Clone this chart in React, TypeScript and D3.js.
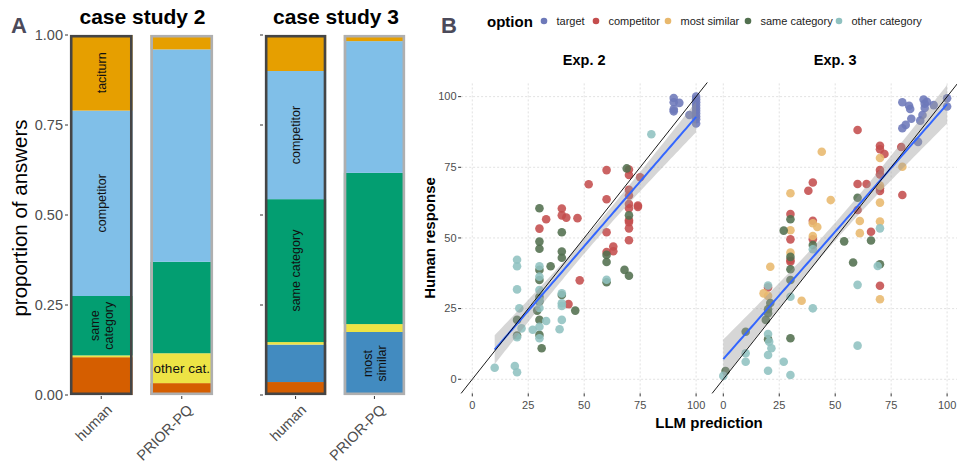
import * as d3 from 'd3';

type Pt = [number, number];

// ---------- panel A: answer proportions (stacked bottom -> top)
const answerTypes = ['target', 'most similar', 'other category', 'same category', 'competitor', 'taciturn'];
const answerColors = ['#D55E00', '#428BC0', '#EDE345', '#039E71', '#80BFE8', '#E69F00'];
const studies = ['case study 2', 'case study 3'];
const sources = ['human', 'PRIOR-PQ'];
const cs2Human = [0.105, 0, 0.005, 0.165, 0.515, 0.21];
const cs2Prior = [0.033, 0, 0.083, 0.254, 0.59, 0.04];
const cs3Human = [0.036, 0.104, 0.007, 0.397, 0.356, 0.1];
const cs3Prior = [0, 0.175, 0.022, 0.42, 0.366, 0.017];
const propTicks = [0, 0.25, 0.5, 0.75, 1];

const barLabels = [
  { study: 'case study 2', source: 'human', type: 'taciturn', lines: ['taciturn'], rotate: true },
  { study: 'case study 2', source: 'human', type: 'competitor', lines: ['competitor'], rotate: true },
  { study: 'case study 2', source: 'human', type: 'same category', lines: ['same', 'category'], rotate: true },
  { study: 'case study 2', source: 'PRIOR-PQ', type: 'other category', lines: ['other cat.'], rotate: false },
  { study: 'case study 3', source: 'human', type: 'competitor', lines: ['competitor'], rotate: true },
  { study: 'case study 3', source: 'human', type: 'same category', lines: ['same category'], rotate: true },
  { study: 'case study 3', source: 'PRIOR-PQ', type: 'most similar', lines: ['most', 'similar'], rotate: true },
];

// ---------- panel B: LLM prediction vs human response
const optionNames = ['target', 'competitor', 'most similar', 'same category', 'other category'];
const optionColors = ['#6D79B9', '#C44D4D', '#E8B86D', '#52704F', '#8FC1C0'];
const experiments = ['Exp. 2', 'Exp. 3'];
const axisTicks = [0, 25, 50, 75, 100];

const exp2Target: Pt[] = [
  [90, 99.5], [90, 98], [92.5, 97.8], [90, 95.5], [90, 94.8], [97, 93.5], [100, 100], [100, 99],
  [100, 98], [100, 97], [100, 96], [100, 95], [100, 94], [100, 93], [100, 92], [100, 90.5],
];
const exp2Competitor: Pt[] = [
  [30, 53.3], [33, 56.6], [40, 60.4], [40, 58], [42, 57.2], [47, 57], [43, 26.6], [48, 35],
  [52, 69], [60, 74], [60, 63.7], [60, 52], [60, 45], [63, 47], [63, 45.3], [70, 74.2],
  [70, 72.3], [70, 67], [70, 65], [70, 62], [70, 60.5], [70, 56.3], [70, 55.6], [70, 53.4],
  [70, 49.2], [74, 61.5], [74, 61], [75, 71.5],
];
const exp2Similar: Pt[] = [];
const exp2Same: Pt[] = [
  [69, 74.6], [70, 58], [60, 44], [60, 41.5], [60, 34.3], [68, 38.7], [70, 36.6], [46, 24.3],
  [40, 52], [40, 45.2], [40, 43], [40, 29.8], [35, 40], [30, 60.5], [30, 48.7], [30, 46.2],
  [30, 38.7], [30, 35.1], [30, 29.2], [30, 27.5], [29, 24.3], [30, 21], [30, 15.7], [31, 11],
  [20, 21], [20, 15.5],
];
const exp2Other: Pt[] = [
  [80, 86.7], [60, 35.2], [40, 30.4], [40, 26.9], [40, 25.9], [40, 21], [39, 17.7], [33, 20.6],
  [30, 40], [30, 36.3], [30, 31.6], [30, 28], [30, 25.2], [30, 18.6], [30, 14.5], [27, 17.5],
  [22, 18], [21, 25.1], [20, 42.3], [20, 40], [20, 31.8], [20, 14.9], [19, 4.7], [20, 2.5], [10, 4.1],
];

const exp3Target: Pt[] = [
  [80, 98], [83, 96.8], [83.5, 95.6], [84, 92.2], [81.5, 90], [80, 88.8], [87, 84], [89.5, 99],
  [90, 97.5], [90, 96], [89, 93.5], [88, 91.5], [94, 97], [100, 99.4], [100, 96.5], [91, 98.2],
];
const exp3Competitor: Pt[] = [
  [60, 88.2], [70, 82.6], [70, 81.4], [72, 79.7], [79.5, 82.2], [70, 74], [70, 72.5], [60, 69.1],
  [64, 69.1], [70, 67.6], [70, 66.6], [80, 65.2], [60, 59.9], [66, 52.2], [38, 66.7], [40, 69.6],
  [30, 58.5], [40, 56.1], [30, 49.5], [40, 49.5], [30, 42.2], [30, 41.6], [20, 32.5], [70, 33.1],
];
const exp3Similar: Pt[] = [
  [44, 80.5], [70, 78.3], [80, 75.2], [70, 68.5], [48, 63.4], [70, 62.5], [61, 56], [70, 55.8],
  [61, 51.7], [30, 65.8], [30, 52.7], [40, 55.2], [42, 53.9], [40, 50.7], [30, 44.8], [70, 28.3],
  [21, 39.8], [18, 30.4], [20, 29.5], [35, 27.8],
];
const exp3Same: Pt[] = [
  [60, 64.2], [54, 48.8], [66, 49.1], [27, 52.6], [30, 56.6], [30, 43.3], [30, 38.9], [30, 35.1],
  [40, 47.5], [58, 41.3], [70, 40.7], [21, 27], [20, 24.8], [20, 23.4], [19, 21], [10, 16.8],
  [30, 14.5], [20, 14.2], [1, 2.9],
];
const exp3Other: Pt[] = [
  [70, 53.4], [40, 46], [30, 29.2], [20, 33.2], [60, 33.4], [69, 40.1], [40, 25.1], [20, 16],
  [20.5, 13.3], [21.5, 11], [20, 8.6], [10, 9.2], [10, 6.2], [20, 3], [27, 6.2], [30, 1.5],
  [0, 1.2], [60, 11.9],
];

const expPoints = [
  [exp2Target, exp2Competitor, exp2Similar, exp2Same, exp2Other],
  [exp3Target, exp3Competitor, exp3Similar, exp3Same, exp3Other],
];

const FONT = '"Liberation Sans", Arial, Helvetica, sans-serif';
const GREY = '#4D4D4D';

// ordinary least squares with 95% confidence band
function fitLine(pts: Pt[]) {
  const n = pts.length;
  const mx = d3.mean(pts, (d) => d[0])!;
  const my = d3.mean(pts, (d) => d[1])!;
  const sxx = d3.sum(pts, (d) => (d[0] - mx) ** 2);
  const sxy = d3.sum(pts, (d) => (d[0] - mx) * (d[1] - my));
  const b = sxy / sxx;
  const a = my - b * mx;
  const sse = d3.sum(pts, (d) => (d[1] - a - b * d[0]) ** 2);
  const s = Math.sqrt(sse / (n - 2));
  const t = 1.98;
  const [x0, x1] = d3.extent(pts, (d) => d[0]) as [number, number];
  const xs = d3.range(0, 81).map((i) => x0 + ((x1 - x0) * i) / 80);
  return xs.map((x) => {
    const fit = a + b * x;
    const se = s * Math.sqrt(1 / n + (x - mx) ** 2 / sxx);
    return { x, fit, lo: fit - t * se, hi: fit + t * se };
  });
}

function PanelA() {
  const y = d3.scaleLinear().domain([0, 1]).range([395, 35]);
  const facetRanges: [number, number][] = [[68, 215], [263, 407]];
  const values: Record<string, number[][]> = {
    'case study 2': [cs2Human, cs2Prior],
    'case study 3': [cs3Human, cs3Prior],
  };
  const color = d3.scaleOrdinal<string, string>().domain(answerTypes).range(answerColors);

  return (
    <g fontFamily={FONT}>
      <text x={11} y={33} fontSize={22} fontWeight="bold" fill="#4B4A5A">A</text>
      <text
        transform={`translate(27,218) rotate(-90)`}
        textAnchor="middle"
        fontSize={20.5}
        fill="#000"
      >
        proportion of answers
      </text>
      {studies.map((study, si) => {
        const [r0, r1] = facetRanges[si];
        const x = d3.scaleBand().domain(sources).range([r0, r1]).paddingInner(0.224).paddingOuter(0.025);
        const rows = sources.map((src, k) => {
          const row: any = { source: src };
          answerTypes.forEach((t, j) => (row[t] = values[study][k][j]));
          return row;
        });
        const series = d3.stack().keys(answerTypes)(rows);
        return (
          <g key={study}>
            <text x={(r0 + r1) / 2 + 1} y={24} textAnchor="middle" fontSize={21} fontWeight="bold">
              {study}
            </text>
            {propTicks.map((t) => (
              <g key={t}>
                <line x1={r0 - 3} x2={r0} y1={y(t)} y2={y(t)} stroke="#333" strokeWidth={1} />
                {si === 0 && (
                  <text x={r0 - 5} y={y(t)} dy="0.35em" textAnchor="end" fontSize={14.5} fill={GREY}>
                    {t.toFixed(2)}
                  </text>
                )}
              </g>
            ))}
            {series.map((s) =>
              s.map((d: any, k) => (
                <rect
                  key={s.key + k}
                  x={x(rows[k].source)!}
                  width={x.bandwidth()}
                  y={y(d[1])}
                  height={Math.max(0, y(d[0]) - y(d[1]))}
                  fill={color(s.key)}
                />
              ))
            )}
            {sources.map((src) => (
              <rect
                key={'b' + src}
                x={x(src)! + 1.2}
                y={y(1) + 1.2}
                width={x.bandwidth() - 2.4}
                height={y(0) - y(1) - 2.4}
                fill="none"
                stroke={src === 'human' ? '#454545' : '#AFAFAF'}
                strokeWidth={2.6}
              />
            ))}
            {barLabels
              .filter((l) => l.study === study)
              .map((l) => {
                const k = sources.indexOf(l.source);
                const seg = series.find((s) => s.key === l.type)![k];
                const cx = x(l.source)! + x.bandwidth() / 2;
                const cy = y((seg[0] + seg[1]) / 2);
                const n = l.lines.length;
                return (
                  <text
                    key={l.study + l.source + l.type}
                    transform={`translate(${cx},${cy}) rotate(${l.rotate ? -90 : 0})`}
                    textAnchor="middle"
                    fontSize={l.rotate ? 12.5 : 13.5}
                    fill="#111"
                  >
                    {l.lines.map((ln, i) => (
                      <tspan key={ln} x={0} y={(i - (n - 1) / 2) * 14} dy="0.35em">
                        {ln}
                      </tspan>
                    ))}
                  </text>
                );
              })}
            {sources.map((src) => {
              const cx = x(src)! + x.bandwidth() / 2;
              return (
                <g key={'t' + src}>
                  <line x1={cx} x2={cx} y1={396} y2={399} stroke="#333" />
                  <text
                    transform={`translate(${cx + 4},${403}) rotate(-45)`}
                    textAnchor="end"
                    dy="0.75em"
                    fontSize={14.5}
                    fill={GREY}
                  >
                    {src}
                  </text>
                </g>
              );
            })}
          </g>
        );
      })}
    </g>
  );
}

function PanelB() {
  const y = d3.scaleLinear().domain([-5, 105]).range([393.4, 82.5]);
  const panelX: [number, number][] = [[461.1, 707.3], [712.1, 958.3]];
  const order = [0, 1, 2, 3, 4];

  const legendX = [544, 596, 668, 748, 839];

  return (
    <g fontFamily={FONT}>
      <text x={441} y={33} fontSize={22} fontWeight="bold" fill="#4B4A5A">B</text>
      <text x={487} y={27} fontSize={15} fontWeight="bold">option</text>
      {optionNames.map((o, i) => (
        <g key={o}>
          <circle cx={legendX[i]} cy={21} r={3.3} fill={optionColors[i]} />
          <text x={legendX[i] + 12.5} y={25} fontSize={11} fill="#222">{o}</text>
        </g>
      ))}
      <text transform={`translate(435,238) rotate(-90)`} textAnchor="middle" fontSize={15} fontWeight="bold">
        Human response
      </text>
      <text x={709} y={428} textAnchor="middle" fontSize={15} fontWeight="bold">LLM prediction</text>
      {experiments.map((exp, ei) => {
        const x = d3.scaleLinear().domain([-5, 105]).range(panelX[ei]);
        const all = expPoints[ei].flat() as Pt[];
        const band = fitLine(all);
        const area = d3
          .area<any>()
          .x((d) => x(d.x))
          .y0((d) => y(d.lo))
          .y1((d) => y(d.hi));
        const line = d3
          .line<any>()
          .x((d) => x(d.x))
          .y((d) => y(d.fit));
        return (
          <g key={exp}>
            <text x={x(50)} y={65} textAnchor="middle" fontSize={14.5} fontWeight="bold">{exp}</text>
            {axisTicks.map((t) => (
              <g key={t}>
                <line x1={x(t)} x2={x(t)} y1={y(-5)} y2={y(105)} stroke="#D4D4D4" strokeWidth={0.7} strokeDasharray="2,2" />
                <line x1={x(-5)} x2={x(105)} y1={y(t)} y2={y(t)} stroke="#D4D4D4" strokeWidth={0.7} strokeDasharray="2,2" />
                <line x1={x(t)} x2={x(t)} y1={y(-5)} y2={y(-5) + 3} stroke="#333" />
                <text x={x(t)} y={409} textAnchor="middle" fontSize={11} fill={GREY}>{t}</text>
                {ei === 0 && (
                  <>
                    <line x1={x(-5) - 3} x2={x(-5)} y1={y(t)} y2={y(t)} stroke="#333" />
                    <text x={x(-5) - 4.5} y={y(t)} dy="0.35em" textAnchor="end" fontSize={11} fill={GREY}>{t}</text>
                  </>
                )}
              </g>
            ))}
            {order.map((oi) =>
              expPoints[ei][oi].map((p, k) => (
                <circle key={oi + '-' + k} cx={x(p[0])} cy={y(p[1])} r={4.3} fill={optionColors[oi]} fillOpacity={0.88} />
              ))
            )}
            <path d={area(band)!} fill="#999" fillOpacity={0.4} />
            <path d={line(band)!} fill="none" stroke="#3366FF" strokeWidth={2} />
            <line x1={x(-5)} y1={y(-5)} x2={x(105)} y2={y(105)} stroke="#000" strokeWidth={0.9} />
          </g>
        );
      })}
    </g>
  );
}

export default function App() {
  return (
    <div style={{ position: 'absolute', left: 0, top: 0 }}>
      <svg width={957} height={465} viewBox="0 0 957 465" style={{ display: 'block', background: '#fff' }}>
        <PanelA />
        <PanelB />
      </svg>
    </div>
  );
}
